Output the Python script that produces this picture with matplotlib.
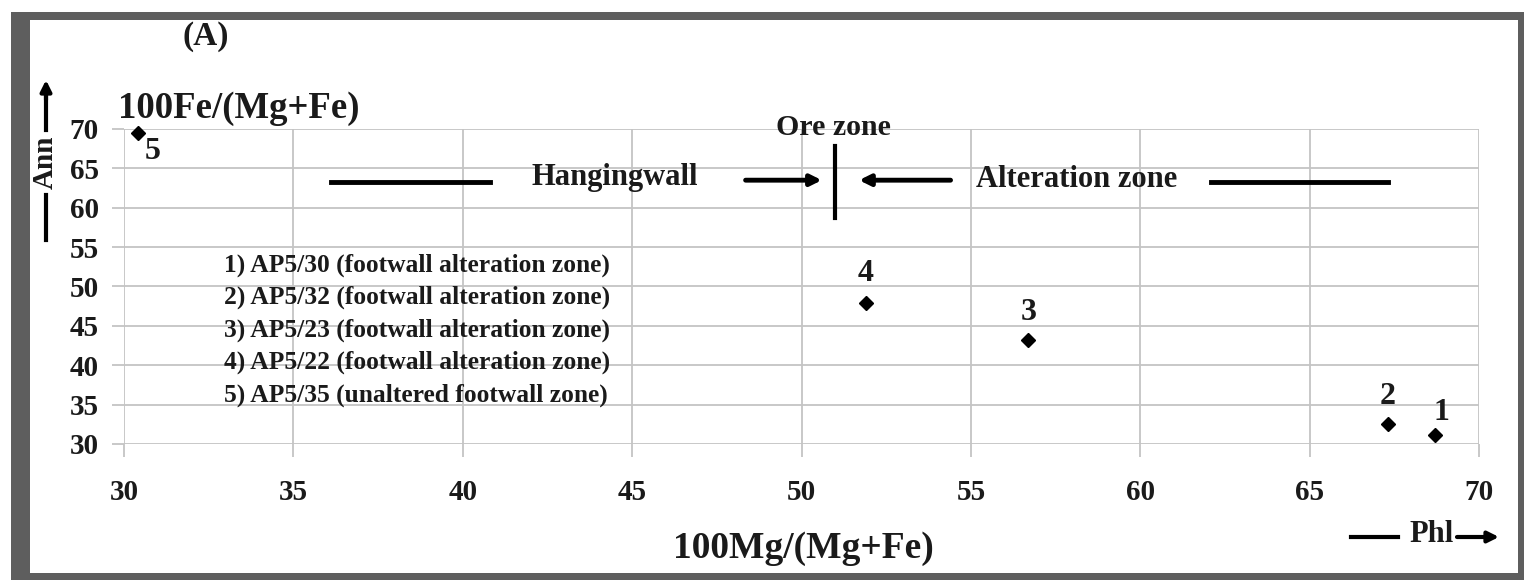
import matplotlib.pyplot as plt
from matplotlib.patches import Rectangle

# sample points (100Mg/(Mg+Fe), 100Fe/(Mg+Fe))
sample_ids = ["1", "2", "3", "4", "5"]
mg_ratio = [68.7, 67.3, 56.7, 51.9, 30.4]
fe_ratio = [31.1, 32.6, 43.2, 47.9, 69.5]

legend_lines = [
    "1) AP5/30 (footwall alteration zone)",
    "2) AP5/32 (footwall alteration zone)",
    "3) AP5/23 (footwall alteration zone)",
    "4) AP5/22 (footwall alteration zone)",
    "5) AP5/35 (unaltered footwall zone)",
]

x_ticks = [30, 35, 40, 45, 50, 55, 60, 65, 70]
y_ticks = [30, 35, 40, 45, 50, 55, 60, 65, 70]

plt.rcParams['font.family'] = ['Liberation Serif', 'DejaVu Serif']
plt.rcParams['font.weight'] = 'bold'

fig = plt.figure(figsize=(15.24, 5.8), dpi=100)
W, H = 1524, 580
ink = '#1a1a1a'

# grey frame around the panel
fig.patches.append(Rectangle((11 / W, 0), 1 - 11 / W, 1 - 12 / H, transform=fig.transFigure,
                             facecolor='#5e5e5e', edgecolor='none', zorder=-3))
fig.patches.append(Rectangle((30 / W, 7 / H), (1518 - 30) / W, 1 - 20 / H - 7 / H,
                             transform=fig.transFigure, facecolor='white', edgecolor='none', zorder=-2))

ax = fig.add_axes([124 / W, 1 - 444 / H, (1479 - 124) / W, (444 - 129) / H])
ax.patch.set_alpha(0)
ax.set_xlim(30, 70)
ax.set_ylim(30, 70)
ax.set_xticks(x_ticks)
ax.set_yticks(y_ticks)
ax.grid(True, color='#c4c4c4', lw=1.3)
ax.set_axisbelow(True)
for s in ax.spines.values():
    s.set_visible(False)
ax.tick_params(colors='#c4c4c4', width=1.3, length=9, labelcolor=ink, labelsize=21, pad=16)
ax.tick_params(axis='y', pad=9)
for lab in ax.get_xticklabels() + ax.get_yticklabels():
    lab.set_fontweight('bold')

ax.plot(mg_ratio, fe_ratio, 'D', color='black', ms=7, clip_on=False)

label_offsets = {"1": (5, 16.5), "2": (0, 19.5), "3": (0, 20), "4": (0, 21), "5": (11, -13.7)}
for sid, x, y in zip(sample_ids, mg_ratio, fe_ratio):
    dx, dy = label_offsets[sid]
    ax.annotate(sid, (x, y), xytext=(dx, dy), textcoords='offset points',
                ha='center', va='center', fontsize=23, fontweight='bold', color=ink)

# zone markers
zy = 63.3
ax.plot([36.1, 40.8], [zy, zy], color='black', lw=3.5)
ax.plot([62.1, 67.3], [zy, zy], color='black', lw=3.5)
ax.plot([51.0, 51.0], [58.7, 67.8], color='black', lw=3)
ax.annotate('', xy=(50.6, 63.5), xytext=(48.35, 63.5),
            arrowprops=dict(arrowstyle='-|>', lw=3.5, color='black', mutation_scale=16, shrinkA=0, shrinkB=0))
ax.annotate('', xy=(51.7, 63.5), xytext=(54.4, 63.5),
            arrowprops=dict(arrowstyle='-|>', lw=3.5, color='black', mutation_scale=16, shrinkA=0, shrinkB=0))
ax.text(44.5, 63.9, 'Hangingwall', ha='center', va='center', fontsize=22, fontweight='bold', color=ink)
ax.text(58.13, 63.6, 'Alteration zone', ha='center', va='center', fontsize=22, fontweight='bold', color=ink)
ax.text(50.95, 70.2, 'Ore zone', ha='center', va='center', fontsize=21.5, fontweight='bold', color=ink)

for i, line in enumerate(legend_lines):
    ax.text(32.95, 52.73 - i * 4.13, line, ha='left', va='center', fontsize=18.4,
            fontweight='bold', color=ink)

# axis titles
fig.text(118 / W, 1 - 108 / H, '100Fe/(Mg+Fe)', ha='left', va='center', fontsize=26.5,
         fontweight='bold', color=ink)
fig.text(803 / W, 1 - 548 / H, '100Mg/(Mg+Fe)', ha='center', va='center', fontsize=27,
         fontweight='bold', color=ink)
fig.text(206 / W, 1 - 37 / H, '(A)', ha='center', va='center', fontsize=24,
         fontweight='bold', color=ink)

# end-member arrows
fig.text(45 / W, 1 - 162 / H, 'Ann', ha='center', va='center', rotation=90, fontsize=21,
         fontweight='bold', color=ink)
fig.add_artist(plt.Line2D([46 / W, 46 / W], [1 - 240 / H, 1 - 195 / H], color='black', lw=3))
fig.add_artist(plt.Line2D([46 / W, 46 / W], [1 - 130 / H, 1 - 95 / H], color='black', lw=3))
ax.annotate('', xy=(46 / W, 1 - 80 / H), xytext=(46 / W, 1 - 100 / H), xycoords='figure fraction',
            arrowprops=dict(arrowstyle='-|>', lw=3, color='black', mutation_scale=16, shrinkA=0, shrinkB=0))

fig.text(1432 / W, 1 - 535 / H, 'Phl', ha='center', va='center', fontsize=22,
         fontweight='bold', color=ink)
fig.add_artist(plt.Line2D([1351 / W, 1398 / W], [1 - 537 / H, 1 - 537 / H], color='black', lw=3))
ax.annotate('', xy=(1499 / W, 1 - 537 / H), xytext=(1457 / W, 1 - 537 / H), xycoords='figure fraction',
            arrowprops=dict(arrowstyle='-|>', lw=3, color='black', mutation_scale=16, shrinkA=0, shrinkB=0))

fig.savefig('out.png', dpi=100)
